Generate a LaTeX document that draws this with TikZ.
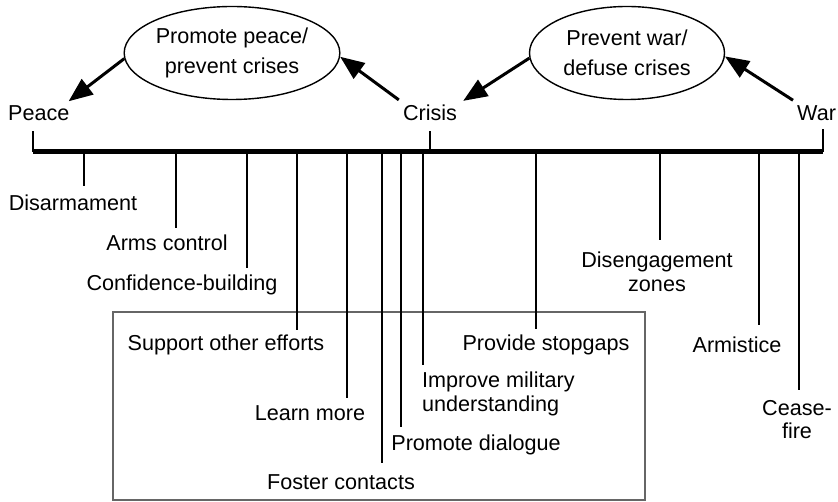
\documentclass[tikz,border=0pt]{standalone}
\usepackage{fontspec}
\setmainfont{Liberation Sans}
\usetikzlibrary{arrows.meta,shapes.geometric}
\begin{document}
\begin{tikzpicture}[x=1pt,y=-1pt,
  every node/.style={font=\fontsize{21.6}{23.5}\selectfont},
  lbl/.style={inner sep=0pt, anchor=north, align=center},
  lblL/.style={inner sep=0pt, anchor=north west, align=left},
  tick/.style={line width=1.6pt},
  axisline/.style={line width=5pt},
  goal/.style={ellipse, draw, line width=1.4pt, minimum width=199pt, minimum height=93pt, inner sep=0pt, align=center, font=\fontsize{21.6}{30}\selectfont},
  arr/.style={line width=3pt, -{Triangle[length=24pt,width=19pt]}},
  frame/.style={draw=black!60, line width=2.5pt, inner sep=0pt},
]
\useasboundingbox (0,0) rectangle (838,502);

% goals
\node[goal] (e1) at (232,53) {Promote peace/\\prevent crises};
\node[goal, minimum width=195pt] (e2) at (627,53) {Prevent war/\\defuse crises};

% states
\node[inner sep=0pt, anchor=west] (peace) at (8,113) {Peace};
\node[inner sep=0pt] (crisis) at (430,113) {Crisis};
\node[inner sep=0pt, anchor=west] (war) at (797,113) {War};

\draw[arr] (e1.183) -- ([xshift=-1pt,yshift=4pt]peace.north east);
\draw[arr] ([xshift=-4pt,yshift=5pt]crisis.north west) -- (e1.-2);
\draw[arr] (e2.183) -- ([xshift=6pt,yshift=4pt]crisis.north east);
\draw[arr] ([xshift=-4pt,yshift=5pt]war.north west) -- (e2.-2);

% frame
\node[frame, minimum width=532pt, minimum height=188pt] (box) at (379,406) {};

% axis
\coordinate (aL) at (33,152);
\coordinate (aC) at (430,152);
\coordinate (aR) at (823,152);
\draw[axisline] (aL) -- (aR);
\draw[tick] (aL) -- ([yshift=-10pt]aL |- peace.south);
\draw[tick] (aC) -- ([yshift=-10pt]aC |- crisis.south);
\draw[tick] (aR) -- ([yshift=-8pt]aR |- war.south);

% measures
\node[lbl] (dis) at (73,195) {Disarmament};
\node[lbl] (arms) at (167,235) {Arms control};
\node[lbl] (conf) at (182,275) {Confidence-building};
\node[lbl] (supp) at (226,335) {Support other efforts};
\node[lbl] (learn) at (310,405) {Learn more};
\node[lbl] (fost) at (341,474) {Foster contacts};
\node[lbl] (dial) at (476,435) {Promote dialogue};
\node[lblL] (milit) at (422,372) {Improve military\\understanding};
\node[lbl] (stop) at (546,335) {Provide stopgaps};
\node[lbl] (diseng) at (657,252) {Disengagement\\zones};
\node[lbl] (armi) at (737,337) {Armistice};
\node[lbl] (cease) at (797,400) {Cease-\\fire};

\coordinate (t1) at (84,152);
\coordinate (t2) at (176,152);
\coordinate (t3) at (247,152);
\coordinate (t4) at (297,152);
\coordinate (t5) at (347,152);
\coordinate (t6) at (382,152);
\coordinate (t7) at (401,152);
\coordinate (t8) at (423,152);
\coordinate (t9) at (536,152);
\coordinate (t10) at (660,152);
\coordinate (t11) at (759,152);
\coordinate (t12) at (799,152);

\draw[tick] (t1) -- ([yshift=9pt]t1 |- dis.north);
\draw[tick] (t2) -- ([yshift=7pt]t2 |- arms.north);
\draw[tick] (t3) -- ([yshift=7pt]t3 |- conf.north);
\draw[tick] (t4) -- ([yshift=5pt]t4 |- supp.north);
\draw[tick] (t5) -- ([yshift=7pt]t5 |- learn.north);
\draw[tick] (t6) -- ([yshift=11pt]t6 |- fost.north);
\draw[tick] (t7) -- ([yshift=8pt]t7 |- dial.north);
\draw[tick] (t8) -- ([yshift=7pt]t8 |- milit.north);
\draw[tick] (t9) -- ([yshift=6pt]t9 |- stop.north);
\draw[tick] (t10) -- ([yshift=12pt]t10 |- diseng.north);
\draw[tick] (t11) -- ([yshift=12pt]t11 |- armi.north);
\draw[tick] (t12) -- ([yshift=10pt]t12 |- cease.north);
\end{tikzpicture}
\end{document}
